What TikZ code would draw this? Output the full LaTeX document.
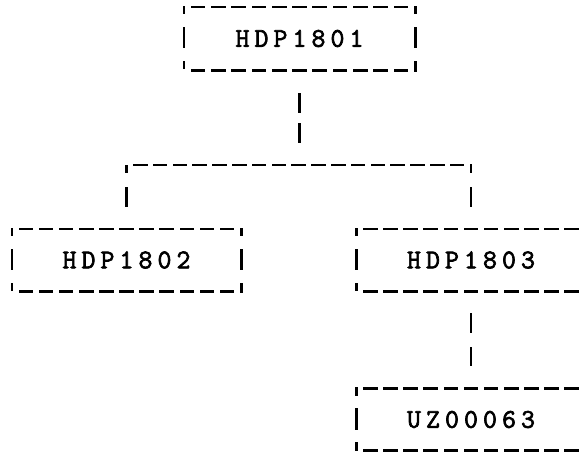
\documentclass[tikz,border=0pt]{standalone}
\usepackage{fontspec}
\setmonofont{Latin Modern Mono}[AutoFakeBold=2.5]
\usetikzlibrary{decorations}
\newcommand\mc[1]{\makebox[19pt]{#1}}
\begin{document}
\begin{tikzpicture}[x=1pt,y=-1pt,
  box/.style={minimum width=229pt,minimum height=62pt,inner sep=0pt,
    font=\ttfamily\bfseries\fontsize{27}{27}\selectfont},
  hd/.style={line width=2.6pt,line cap=rect,dash pattern=on 12pt off 7pt,dash expand off},
  vd/.style={line width=2.6pt,line cap=rect,dash pattern=on 6pt off 15pt on 19pt off 15pt on 6pt off 20pt},
  link/.style={line width=2.6pt,line cap=butt}]
\useasboundingbox (0,0) rectangle (584,453);
\clip (0,0) rectangle (584,453);
\newcommand\boxedges[1]{%
  \draw[hd] (#1.north west) -- (#1.north east);
  \draw[hd] (#1.south west) -- (#1.south east);
  \draw[vd] (#1.north west) -- (#1.south west);
  \draw[vd] (#1.north east) -- (#1.south east);}
\node[box,minimum width=231pt,minimum height=63pt] (t) at (299.5,38.5) {\raisebox{-2pt}{\mc H\mc D\mc P\mc 1\mc 8\mc 0\mc 1}};
\node[box] (b1) at (126.5,260) {\raisebox{-3pt}{\mc H\mc D\mc P\mc 1\mc 8\mc 0\mc 2}};
\node[box] (b2) at (471,260) {\raisebox{-3pt}{\mc H\mc D\mc P\mc 1\mc 8\mc 0\mc 3}};
\node[box] (u) at (471,419.5) {\raisebox{-2pt}{\mc U\mc Z\mc 0\mc 0\mc 0\mc 6\mc 3}};
\boxedges{t}
\boxedges{b1}
\boxedges{b2}
\boxedges{u}
\coordinate (jl) at (b1.north |- 0,165);
\coordinate (jr) at (b2.north |- 0,165);
\coordinate (jt) at (t.south |- 0,165);
\draw[link,dash pattern=on 20pt off 10pt on 20pt off 45pt,dash phase=72pt] (t.south) -- (jt);
\draw[hd] (jl) -- (jr);
\draw[link,dash pattern=on 8pt off 14pt on 20pt off 30pt] (jl) -- (b1.north);
\draw[link,dash pattern=on 8pt off 14pt on 20pt off 30pt] (jr) -- (b2.north);
\draw[link,dash pattern=on 20pt off 14pt on 19pt off 45pt,dash phase=76pt] (b2.south) -- (u.north);
\end{tikzpicture}
\end{document}
